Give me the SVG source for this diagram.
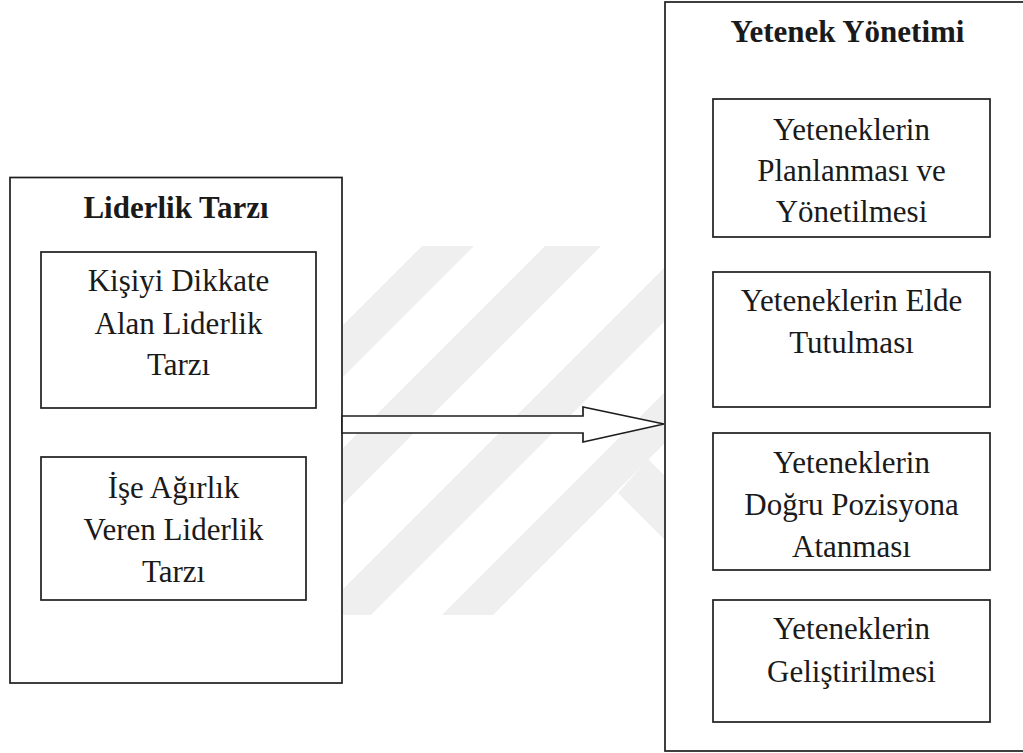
<svg xmlns="http://www.w3.org/2000/svg" width="1023" height="753" viewBox="0 0 1023 753">
<defs>
<style>
.box{fill:#fff;stroke:#1e1e1e;stroke-width:1.7}
.frame{fill:none;stroke:#1e1e1e;stroke-width:1.7}
.t{font-family:"Liberation Serif","Times New Roman",serif;font-size:31px;fill:#1a1a1a;text-anchor:middle}
.b{font-weight:bold}
.wm{fill:#efefef}
</style>
<clipPath id="wmclip"><rect x="343" y="246" width="321" height="369"/></clipPath>
</defs>
<rect width="1023" height="753" fill="#fff"/>
<g id="watermark" clip-path="url(#wmclip)">
<polygon class="wm" points="422,246 474,246 105,615 53,615"/>
<polygon class="wm" points="545,246 601,246 232,615 176,615"/>
<polygon class="wm" points="686,246 740,246 371,615 317,615"/>
<polygon class="wm" points="811,246 862,246 493,615 442,615"/>
<polygon class="wm" points="648,459 740,551 740,615 618,493"/>
</g>
<g id="liderlik">
<rect class="frame" x="10" y="177.5" width="332" height="505.5"/>
<text class="t b" x="176" y="218">Liderlik Tarzı</text>
</g>
<g id="kisiyi">
<rect class="box" x="41" y="252" width="275" height="156"/>
<text class="t" x="178.5" y="291">Kişiyi Dikkate</text>
<text class="t" x="178.5" y="334">Alan Liderlik</text>
<text class="t" x="178.5" y="375">Tarzı</text>
</g>
<g id="ise">
<rect class="box" x="41" y="457" width="265" height="143"/>
<text class="t" x="173.5" y="498">İşe Ağırlık</text>
<text class="t" x="173.5" y="540">Veren Liderlik</text>
<text class="t" x="173.5" y="582">Tarzı</text>
</g>
<g id="yetenek">
<rect class="frame" x="665" y="2" width="400" height="749"/>
<text class="t b" x="847.5" y="42">Yetenek Yönetimi</text>
</g>
<g id="planlama">
<rect class="box" x="713" y="99" width="277" height="138"/>
<text class="t" x="851.5" y="140">Yeteneklerin</text>
<text class="t" x="851.5" y="181">Planlanması ve</text>
<text class="t" x="851.5" y="222">Yönetilmesi</text>
</g>
<g id="eldetutma">
<rect class="box" x="713" y="272" width="277" height="135"/>
<text class="t" x="851.5" y="311">Yeteneklerin Elde</text>
<text class="t" x="851.5" y="353">Tutulması</text>
</g>
<g id="atama">
<rect class="box" x="713" y="433" width="277" height="137"/>
<text class="t" x="851.5" y="473">Yeteneklerin</text>
<text class="t" x="851.5" y="515">Doğru Pozisyona</text>
<text class="t" x="851.5" y="557">Atanması</text>
</g>
<g id="gelistirme">
<rect class="box" x="713" y="600" width="277" height="122"/>
<text class="t" x="851.5" y="639">Yeteneklerin</text>
<text class="t" x="851.5" y="682">Geliştirilmesi</text>
</g>
<g id="connectors">
<polygon points="342,416 583,416 583,407 664,424 583,442 583,433 342,433" fill="#fff" stroke="#1e1e1e" stroke-width="1.7" stroke-linejoin="miter"/>
</g>
</svg>
